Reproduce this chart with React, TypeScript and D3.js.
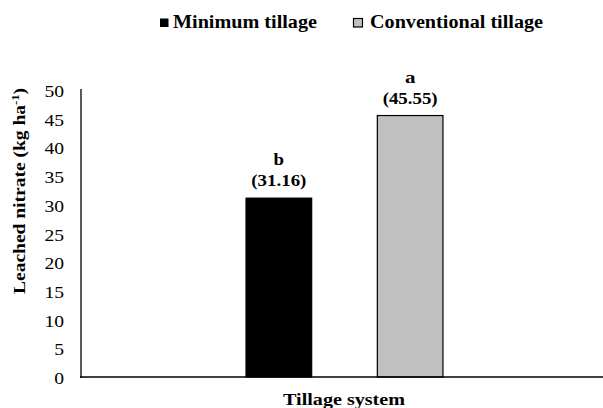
import React from "react";
import * as d3 from "d3";

const categories = ["Tillage system"];
const series = ["Minimum tillage", "Conventional tillage"];
const values = [31.16, 45.55];
const letters = ["b", "a"];
const colors = ["#000000", "#c0c0c0"];
const yTicks = [0, 5, 10, 15, 20, 25, 30, 35, 40, 45, 50];

const W = 603;
const H = 408;
const FONT = "Liberation Serif, Times New Roman, Times, serif";

export default function App() {
  const left = 81;
  const right = 608;
  const top = 90;
  const bottom = 377;

  const x0 = d3.scaleBand<string>().domain(categories).range([left, right]).padding(0);
  const x1 = d3
    .scaleBand<string>()
    .domain(series)
    .range([0, x0.bandwidth()])
    .paddingInner(0.5)
    .paddingOuter(1.257);
  const y = d3.scaleLinear().domain([0, 50]).range([bottom, top]);

  return (
    <svg
      width={W}
      height={H}
      style={{ position: "absolute", left: 0, top: 0, background: "#fff", fontFamily: FONT }}
    >
      <rect x={0} y={0} width={W} height={H} fill="#fff" />
      {/* legend */}
      <g fontWeight="bold" fontSize={18} style={{ fontFamily: FONT }}>
        <rect x={160} y={18.5} width={8.5} height={8.5} fill="#000" />
        <text x={173} y={28} textLength={144} lengthAdjust="spacingAndGlyphs">
          {series[0]}
        </text>
        <rect x={353.5} y={18.5} width={9} height={8.5} fill="#c0c0c0" stroke="#000" strokeWidth={1.2} />
        <text x={370} y={28} textLength={173} lengthAdjust="spacingAndGlyphs">
          {series[1]}
        </text>
      </g>

      {/* y ticks */}
      <g fontSize={16} textAnchor="end" style={{ fontFamily: FONT }}>
        {yTicks.map((t) => (
          <text
            key={t}
            x={64}
            y={y(t) + 7}
            textLength={String(t).length * 9.8}
            lengthAdjust="spacingAndGlyphs"
          >
            {t}
          </text>
        ))}
      </g>

      {/* bars */}
      {categories.map((c) => (
        <g key={c} transform={`translate(${x0(c)},0)`} style={{ fontFamily: FONT }}>
          {series.map((s, i) => {
            const bx = x1(s)!;
            const by = y(values[i]);
            const cx = bx + x1.bandwidth() / 2;
            const label = `(${values[i].toFixed(2)})`;
            return (
              <g key={s}>
                <rect
                  x={bx}
                  y={by}
                  width={x1.bandwidth()}
                  height={bottom - by}
                  fill={colors[i]}
                  stroke="#000"
                  strokeWidth={1.2}
                />
                <text
                  x={cx}
                  y={by - 33}
                  textAnchor="middle"
                  fontWeight="bold"
                  fontSize={17.5}
                  textLength={10.5}
                  lengthAdjust="spacingAndGlyphs"
                >
                  {letters[i]}
                </text>
                <text
                  x={cx}
                  y={by - 12}
                  textAnchor="middle"
                  fontWeight="bold"
                  fontSize={17.5}
                  textLength={55}
                  lengthAdjust="spacingAndGlyphs"
                >
                  {label}
                </text>
              </g>
            );
          })}
        </g>
      ))}

      {/* axes */}
      <line x1={81} y1={89} x2={81} y2={bottom + 1} stroke="#000" strokeWidth={1.3} />
      <line x1={80} y1={bottom} x2={W} y2={bottom} stroke="#000" strokeWidth={1.3} />

      {/* y title */}
      <text
        transform={`translate(25,191) rotate(-90)`}
        textAnchor="middle"
        fontWeight="bold"
        fontSize={17}
        textLength={206}
        lengthAdjust="spacingAndGlyphs"
        style={{ fontFamily: FONT }}
      >
        Leached nitrate (kg ha
        <tspan dy={-6} fontSize={11}>-1</tspan>
        <tspan dy={6}>)</tspan>
      </text>

      {/* x title */}
      <text
        x={344}
        y={405}
        textAnchor="middle"
        fontWeight="bold"
        fontSize={17.7}
        textLength={122}
        lengthAdjust="spacingAndGlyphs"
        style={{ fontFamily: FONT }}
      >
        {categories[0]}
      </text>
    </svg>
  );
}
